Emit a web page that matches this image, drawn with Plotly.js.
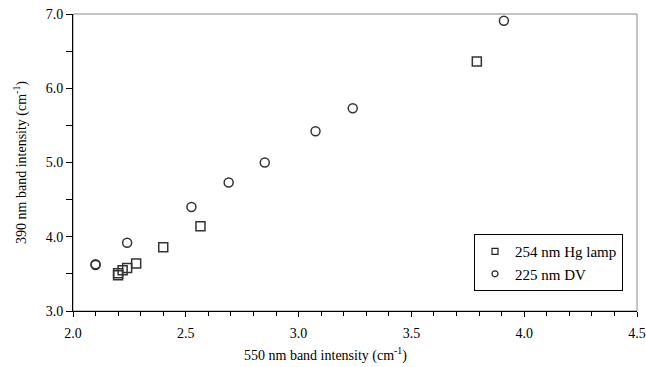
<!DOCTYPE html>
<html>
<head>
<meta charset="utf-8">
<script src="https://cdn.plot.ly/plotly-3.0.1.min.js"></script>
<style>html,body{margin:0;padding:0;background:#fff;}#chart{width:646px;height:367px;}</style>
</head>
<body>
<div id="chart"></div>
<script>
// Series: 254 nm Hg lamp (squares)
const hgX = [2.20, 2.20, 2.22, 2.24, 2.28, 2.40, 2.565, 3.79];
const hgY = [3.51, 3.48, 3.55, 3.58, 3.64, 3.86, 4.14, 6.36];
// Series: 225 nm DV (circles)
const dvX = [2.10, 2.10, 2.24, 2.525, 2.69, 2.85, 3.075, 3.24, 3.91];
const dvY = [3.63, 3.62, 3.92, 4.40, 4.73, 5.00, 5.42, 5.73, 6.91];
const seriesNames = ["254 nm Hg lamp", "225 nm DV"];
const xTitle = "550 nm band intensity (cm<sup>-1</sup>)";
const yTitle = "390 nm band intensity (cm<sup>-1</sup>)";

const fam = "Liberation Serif, Times New Roman, serif";
const font = {family: fam, size: 14, color: "#000"};
const legFont = {family: fam, size: 15, color: "#000"};

const traces = [
  {x: hgX, y: hgY, name: seriesNames[0], type: "scatter", mode: "markers", showlegend: false,
   marker: {symbol: "square-open", size: 9, color: "#333", line: {width: 1.5, color: "#333"}}},
  {x: dvX, y: dvY, name: seriesNames[1], type: "scatter", mode: "markers", showlegend: false,
   marker: {symbol: "circle-open", size: 9, color: "#333", line: {width: 1.5, color: "#333"}}},
  // legend entries (smaller legend symbols, as in the reference)
  {x: [null], y: [null], name: seriesNames[0], type: "scatter", mode: "markers",
   marker: {symbol: "square-open", size: 6, color: "#222", line: {width: 1.2, color: "#222"}}},
  {x: [null], y: [null], name: seriesNames[1], type: "scatter", mode: "markers",
   marker: {symbol: "circle-open", size: 6, color: "#222", line: {width: 1.2, color: "#222"}}}
];

const layout = {
  width: 646, height: 367,
  margin: {l: 73, r: 9, t: 14, b: 56},
  paper_bgcolor: "#fff", plot_bgcolor: "#fff",
  font: font,
  showlegend: true,
  legend: {x: 0.711, y: 0.259, xanchor: "left", yanchor: "top",
           bordercolor: "#000", borderwidth: 1, bgcolor: "#fff",
           font: legFont, tracegroupgap: 0, itemwidth: 30, traceorder: "normal"},
  xaxis: {
    range: [2.0, 4.5], dtick: 0.5, tick0: 2.0, tickformat: ".1f",
    showgrid: false, zeroline: false, showline: true, linecolor: "#000", linewidth: 1,
    ticks: "outside", ticklen: 5, tickcolor: "#000", ticklabelstandoff: 4,
    minor: {dtick: 0.1, ticks: "outside", ticklen: 4, tickcolor: "#000", showgrid: false},
    tickfont: font,
    title: {text: ""}
  },
  yaxis: {
    range: [3.0, 7.0], dtick: 1, tick0: 3.0, tickformat: ".1f",
    showgrid: false, zeroline: false, showline: true, linecolor: "#000", linewidth: 1,
    ticks: "outside", ticklen: 6, tickcolor: "#000",
    minor: {dtick: 0.5, ticks: "outside", ticklen: 6, tickcolor: "#000", showgrid: false},
    tickfont: font,
    title: {text: yTitle, font: font, standoff: 15}
  },
  annotations: [{text: xTitle, xref: "paper", yref: "paper", x: 0.447, y: 0,
                 yshift: -43, xanchor: "center", yanchor: "middle", showarrow: false, font: font}],
  shapes: [{type: "rect", xref: "paper", yref: "paper", x0: 0, x1: 1, y0: 0, y1: 1,
            line: {color: "#888", width: 1}, layer: "below"}]
};

Plotly.newPlot("chart", traces, layout, {displayModeBar: false, staticPlot: true});
</script>
</body>
</html>
